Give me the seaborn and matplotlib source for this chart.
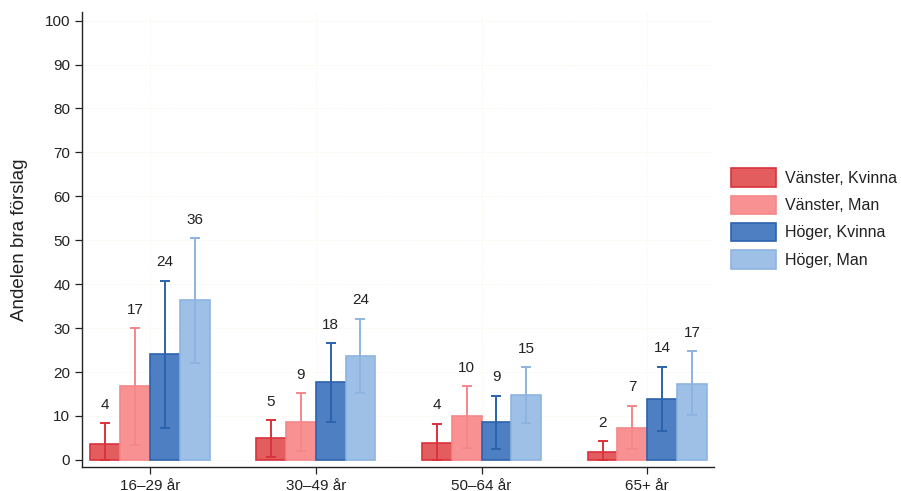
import matplotlib
matplotlib.use("Agg")
import matplotlib.pyplot as plt
import seaborn as sns
import pandas as pd
import numpy as np
from matplotlib.patches import Patch

categories = ["16–29 år", "30–49 år", "50–64 år", "65+ år"]
groups = ["Vänster, Kvinna", "Vänster, Man", "Höger, Kvinna", "Höger, Man"]
values = {
    "Vänster, Kvinna": [3.6, 4.9, 3.9, 1.8],
    "Vänster, Man": [16.8, 8.6, 10.0, 7.3],
    "Höger, Kvinna": [24.0, 17.7, 8.6, 13.9],
    "Höger, Man": [36.4, 23.6, 14.8, 17.3],
}
err_low = {
    "Vänster, Kvinna": [0.0, 0.7, 0.0, 0.0],
    "Vänster, Man": [3.3, 2.0, 2.8, 2.5],
    "Höger, Kvinna": [7.3, 8.7, 2.5, 6.6],
    "Höger, Man": [22.0, 15.3, 8.5, 10.2],
}
err_high = {
    "Vänster, Kvinna": [8.3, 9.1, 8.2, 4.3],
    "Vänster, Man": [30.0, 15.2, 16.8, 12.3],
    "Höger, Kvinna": [40.8, 26.6, 14.6, 21.2],
    "Höger, Man": [50.5, 32.1, 21.1, 24.8],
}
labels = {
    "Vänster, Kvinna": ["4", "5", "4", "2"],
    "Vänster, Man": ["17", "9", "10", "7"],
    "Höger, Kvinna": ["24", "18", "9", "14"],
    "Höger, Man": ["36", "24", "15", "17"],
}
fills = ["#e35d5f", "#f79192", "#4f7fc3", "#9ec0e6"]
edges = ["#d8333b", "#f5878a", "#2c63ad", "#8db4e0"]

rows = []
for g in groups:
    for i, c in enumerate(categories):
        rows.append({"cat": c, "grp": g, "val": values[g][i]})
df = pd.DataFrame(rows)

sns.set_style("white")
plt.rcParams["font.family"] = ["Liberation Sans", "DejaVu Sans"]

fig = plt.figure(figsize=(9.01, 4.91), dpi=100)
ax = fig.add_axes([0.091, 0.049, 0.701, 0.927])

sns.barplot(data=df, x="cat", y="val", hue="grp", order=categories, hue_order=groups,
            palette=fills, errorbar=None, width=0.72, ax=ax, legend=False,
            linewidth=1.2, saturation=1)

for gi, (g, cont) in enumerate(zip(groups, ax.containers)):
    for i, p in enumerate(cont.patches):
        p.set_edgecolor(edges[gi])
        p.set_linewidth(1.2)
        xc = p.get_x() + p.get_width() / 2
        v = values[g][i]
        ax.errorbar([xc], [v], yerr=[[v - err_low[g][i]], [err_high[g][i] - v]],
                    fmt="none", ecolor=edges[gi], elinewidth=1.4, capsize=3.5, capthick=1.4,
                    zorder=3)
        ax.text(xc, err_high[g][i] + 2.6, labels[g][i], ha="center", va="bottom",
                fontsize=11, color="#222222")

ax.set_xlim(-0.41, 3.40)
ax.set_ylim(-1.6, 102)
ax.set_yticks(range(0, 101, 10))
ax.grid(True, color="#f9f9ef", linestyle="--", linewidth=0.6)
ax.set_axisbelow(True)
for s in ["top", "right"]:
    ax.spines[s].set_visible(False)
for s in ["left", "bottom"]:
    ax.spines[s].set_color("#222222")
    ax.spines[s].set_linewidth(1.0)
ax.tick_params(axis="both", which="both", length=5, width=0.9, color="#222222",
               labelsize=11, labelcolor="#222222", left=True, bottom=True)
ax.set_xlabel("")
ax.set_ylabel("Andelen bra förslag", fontsize=13.5, color="#222222", labelpad=12)

handles = [Patch(facecolor=fills[i], edgecolor=edges[i], linewidth=1.2) for i in range(4)]
fig.legend(handles, groups, loc="center left", bbox_to_anchor=(0.804, 0.555), frameon=False,
           fontsize=11.5, handlelength=2.8, handleheight=1.4, labelspacing=0.55,
           handletextpad=0.6, borderaxespad=0.2, borderpad=0.2, labelcolor="#222222")

fig.savefig("out.png", dpi=100)
